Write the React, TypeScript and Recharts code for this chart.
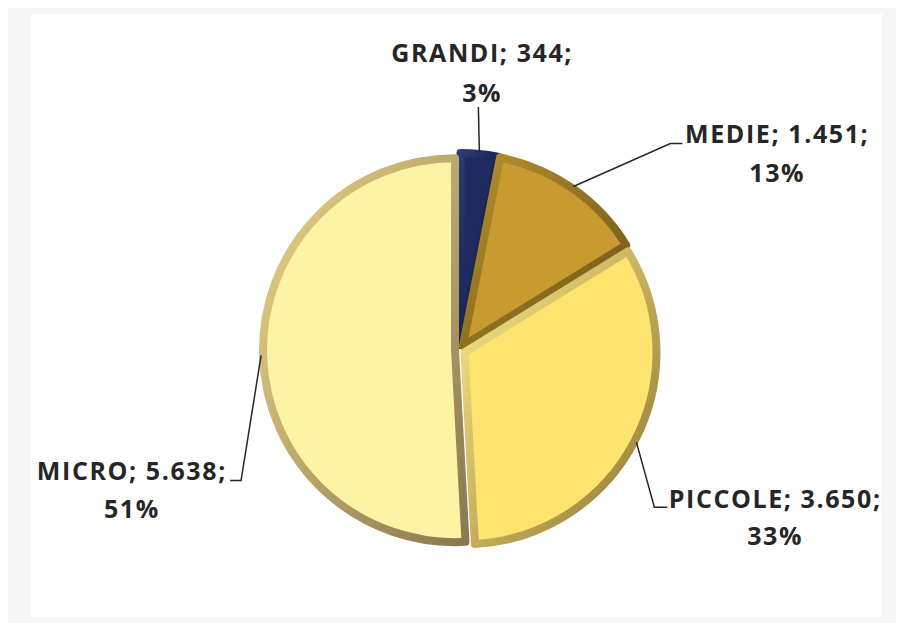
import React from 'react';
import { PieChart, Pie, Cell } from 'recharts';

const categories = ['GRANDI', 'MEDIE', 'PICCOLE', 'MICRO'];
const values = [344, 1451, 3650, 5638];
const fills = ['#1f2a60', '#c99a30', '#fee46f', '#fdf3a5'];
const rimLight = ['#2d3a78', '#b8902c', '#fdeb8a', '#ecd488'];
const rimDark = ['#0a1030', '#6a5218', '#8e7530', '#8a7850'];

// label layout (relative to the leader start on the slice edge)
const labelLayout = [
  { elbow: [-1, -45], tail: 0, text: [3, -55, -15] },
  { elbow: [97, -43], tail: 12, text: [94, -10, 29] },
  { elbow: [18, 65], tail: 13, text: [107, -9, 28] },
  { elbow: [-20, 125], tail: -11, text: [-99, -10, 28] },
];

const data = categories.map((name, i) => ({ name, value: values[i] }));
const total = values.reduce((a, b) => a + b, 0);

const W = 904;
const H = 631;
const CX = 460;
const CY = 350;
const R = 192;
const EXPLODE = 5;
const RAD = Math.PI / 180;
const FONT = "'Open Sans', Lato, sans-serif";
const FS = 25;
const LS = 1.6;

const fmt = (n: number) => String(n).replace(/\B(?=(\d{3})+(?!\d))/g, '.');

// mid angle (clockwise from top) for each slice, from data
const midAngles: number[] = (() => {
  let acc = 0;
  return values.map((v) => {
    const a = ((acc + v / 2) / total) * 360;
    acc += v;
    return a;
  });
})();

const renderLabel = (i: number) => (p: any) => {
  if (p.index !== i) return null;
  const ma = p.midAngle;
  const r = p.outerRadius + 2;
  const sx = p.cx + r * Math.cos(-ma * RAD);
  const sy = p.cy + r * Math.sin(-ma * RAD);
  const L = labelLayout[i];
  const ex = sx + L.elbow[0];
  const ey = sy + L.elbow[1];
  const tx = ex + L.tail;
  const pct = Math.round(p.percent * 100);
  const common = {
    textAnchor: 'middle' as const,
    dominantBaseline: 'central' as const,
    fontFamily: FONT,
    fontWeight: 700,
    fontSize: FS,
    letterSpacing: LS,
    fill: '#262626',
  };
  return (
    <g key={`lbl-${i}`}>
      <polyline
        points={`${sx},${sy} ${ex},${ey} ${tx},${ey}`}
        fill="none"
        stroke="#262626"
        strokeWidth={1.5}
      />
      <text x={tx + L.text[0] + LS / 2} y={ey + L.text[1]} {...common}>
        {`${p.name}; ${fmt(p.value)};`}
      </text>
      <text x={tx + L.text[0] + LS / 2} y={ey + L.text[2]} {...common}>
        {`${pct}%`}
      </text>
    </g>
  );
};

export default function App() {
  return (
    <div
      style={{
        position: 'relative',
        width: W,
        height: H,
        margin: -8,
        background: '#f7f7f7',
        overflow: 'hidden',
      }}
    >
      <svg width={0} height={0} style={{ position: 'absolute' }}>
        <defs>
          {categories.map((c, i) => (
            <linearGradient key={c} id={`rim${i}`} x1="0" y1="0" x2="1" y2="1">
              <stop offset="0%" stopColor={rimLight[i]} />
              <stop offset="100%" stopColor={rimDark[i]} />
            </linearGradient>
          ))}
        </defs>
      </svg>
      <div
        style={{
          position: 'absolute',
          left: 31,
          top: 14,
          width: 851,
          height: 603,
          background: '#ffffff',
        }}
      />
      <div style={{ position: 'absolute', left: 0, top: 0 }}>
        <PieChart width={W} height={H} margin={{ top: 0, right: 0, bottom: 0, left: 0 }}>
          {categories.map((c, i) => {
            const a = midAngles[i] * RAD;
            const cx = CX + EXPLODE * Math.sin(a);
            const cy = CY - EXPLODE * Math.cos(a);
            return (
              <Pie
                key={c}
                data={data}
                dataKey="value"
                nameKey="name"
                cx={cx}
                cy={cy}
                outerRadius={R}
                startAngle={90}
                endAngle={-270}
                isAnimationActive={false}
                labelLine={false}
                label={renderLabel(i)}
              >
                {data.map((d, j) => (
                  <Cell
                    key={d.name}
                    fill={j === i ? fills[i] : 'none'}
                    stroke={j === i ? `url(#rim${i})` : 'none'}
                    strokeWidth={8}
                    strokeLinejoin="round"
                  />
                ))}
              </Pie>
            );
          })}
        </PieChart>
      </div>
    </div>
  );
}
